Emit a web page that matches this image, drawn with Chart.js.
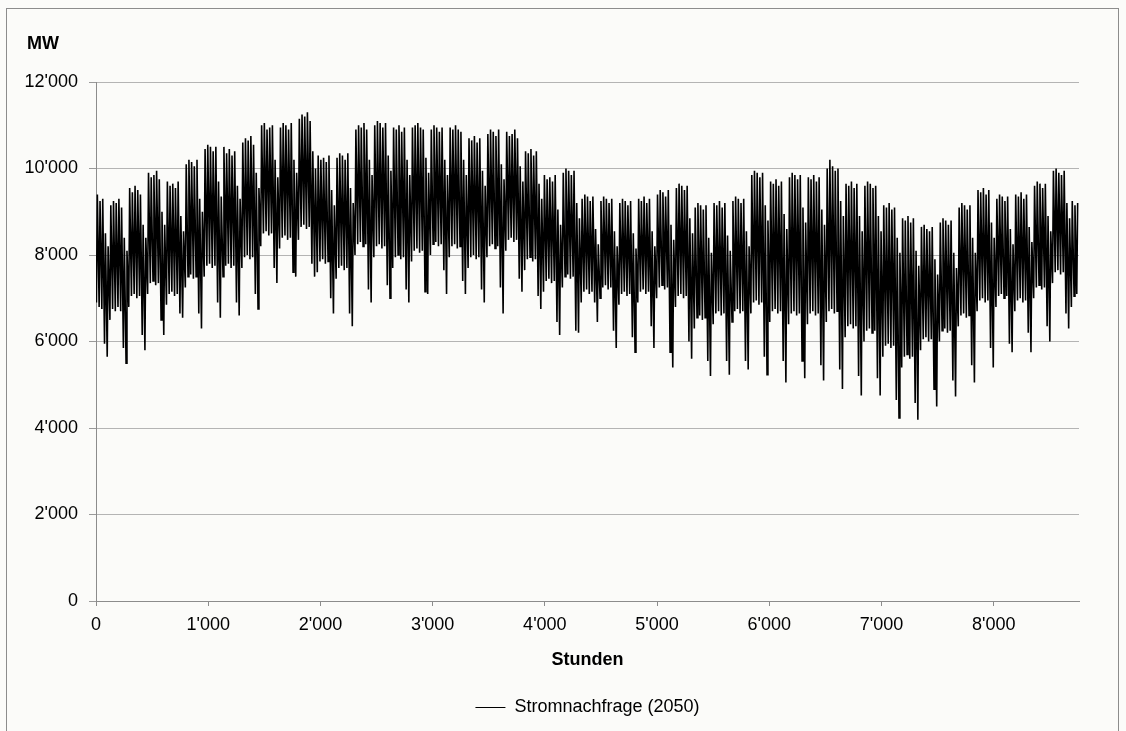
<!DOCTYPE html>
<html>
<head>
<meta charset="utf-8">
<style>
html,body{margin:0;padding:0;background:#fbfbf9;}
canvas{display:block;}
</style>
<script src="https://cdn.jsdelivr.net/npm/chart.js@4.4.0/dist/chart.umd.min.js"></script>
</head>
<body>
<canvas id="c" width="1126" height="731"></canvas>
<script>
// ---- Data ----
const seriesName = 'Stromnachfrage (2050)';
const yUnit = 'MW';
const xTitle = 'Stunden';
const xTicks = [0, 1000, 2000, 3000, 4000, 5000, 6000, 7000, 8000];
const yTicks = [0, 2000, 4000, 6000, 8000, 10000, 12000];
const hoursPerDay = 24;
const troughHour = 4;   // night minimum of each day
const peakHour = 12;    // daytime maximum of each day

// daily maximum demand (MW), day 0 .. 364
const dailyPeakMW = [
 9400,9250,9300, 8500,8200,
 9150,9250,9200,9300,9100, 8400,8100,
 9550,9450,9600,9500,9400, 8700,8400,
 9900,9800,9850,9950,9750, 9000,8700,
 9700,9600,9650,9550,9700, 8900,8550,
 10100,10200,10150,10050,10200, 9300,9000,
 10450,10550,10500,10400,10500, 9700,9350,
 10500,10350,10450,10300,10400, 9600,9300,
 10600,10700,10650,10750,10550, 9900,9550,
 11000,11050,10900,10950,11000, 10200,9800,
 10950,11050,11000,10900,11050, 10200,9900,
 11150,11250,11200,11300,11100, 10400,10000,
 10300,10200,10250,10150,10300, 9500,9150,
 10250,10350,10300,10200,10350, 9550,9200,
 10900,11000,10950,11050,10900, 10200,9850,
 11000,11100,11050,10950,11050, 10300,9950,
 10950,10900,11000,10850,10950, 10200,9850,
 10950,11000,11050,10950,10900, 10250,9900,
 10900,11000,10950,10850,10950, 10200,9850,
 10950,10900,11000,10900,10850, 10200,9850,
 10700,10650,10750,10600,10700, 9950,9600,
 10800,10900,10850,10750,10900, 10100,9750,
 10850,10750,10800,10900,10700, 10050,9700,
 10400,10350,10450,10300,10400, 9650,9300,
 9850,9750,9800,9700,9850, 9050,8700,
 9900,10000,9950,9850,9950, 9200,8850,
 9300,9400,9350,9250,9350, 8600,8250,
 9250,9350,9300,9200,9300, 8550,8200,
 9200,9300,9250,9150,9250, 8500,8150,
 9300,9250,9350,9200,9300, 8550,8200,
 9400,9500,9450,9350,9500, 8700,8350,
 9550,9650,9600,9500,9600, 8850,8500,
 9100,9200,9150,9050,9150, 8400,8050,
 9200,9150,9250,9100,9200, 8450,8100,
 9250,9350,9300,9200,9300, 8550,8200,
 9850,9950,9900,9800,9900, 9150,8800,
 9700,9650,9750,9600,9700, 8950,8600,
 9800,9900,9850,9750,9850, 9100,8750,
 9800,9750,9850,9700,9800, 9050,8700,
 10000,10200,10050,9950,10000, 9250,8900,
 9650,9600,9700,9550,9650, 8900,8550,
 9600,9700,9650,9550,9600, 8900,8550,
 9150,9100,9200,9050,9100, 8400,8050,
 8850,8800,8900,8750,8850, 8100,7750,
 8650,8700,8600,8550,8650, 7900,7550,
 8750,8850,8800,8700,8800, 8050,7700,
 9100,9200,9150,9050,9150, 8400,8050,
 9500,9450,9550,9400,9500, 8750,8400,
 9300,9400,9350,9250,9350, 8600,8250,
 9400,9350,9450,9300,9400, 8650,8300,
 9600,9700,9650,9550,9650, 8900,8550,
 9950,10000,9900,9850,9950, 9200,8850,
 9250,9150,9200
];

// daily night minimum demand (MW), day 0 .. 364
const dailyTroughMW = [
 6900,6800,6750, 5950,5650,
 6500,6750,6700,6800,6700, 5850,5500,
 6800,7050,7100,7000,7050, 6150,5800,
 7100,7350,7400,7300,7350, 6500,6150,
 6850,7100,7150,7050,7100, 6650,6550,
 7250,7500,7550,7450,7500, 6650,6300,
 7500,7750,7800,7700,7750, 6900,6550,
 7500,7750,7800,7700,7750, 6900,6600,
 7700,7950,8000,7900,7950, 7100,6750,
 8200,8500,8550,8450,8500, 7700,7350,
 8150,8400,8450,8350,8400, 7600,7500,
 8350,8650,8700,8600,8650, 7800,7500,
 7600,7850,7900,7800,7850, 7000,6650,
 7450,7700,7750,7650,7700, 6650,6350,
 8000,8250,8300,8200,8250, 7200,6900,
 7950,8200,8250,8150,8200, 7300,7000,
 7700,7950,8000,7900,7950, 7200,6900,
 7850,8100,8150,8050,8100, 7150,7100,
 8000,8250,8300,8200,8250, 7650,7100,
 7950,8200,8250,8150,8200, 7400,7100,
 7700,7950,8000,7900,7950, 7200,6900,
 7950,8200,8250,8150,8200, 7250,6650,
 8100,8350,8400,8300,8350, 7450,7150,
 7650,7900,7950,7850,7900, 7050,6750,
 7150,7400,7450,7350,7400, 6450,6150,
 7250,7500,7550,7450,7500, 6250,6200,
 6900,7150,7200,7100,7150, 6900,6450,
 7000,7250,7300,7200,7250, 6250,5850,
 6850,7100,7150,7050,7100, 6100,5750,
 6900,7150,7200,7100,7150, 6350,5850,
 7000,7250,7300,7200,7250, 5750,5400,
 6800,7050,7100,7000,7050, 6000,5600,
 6300,6550,6600,6500,6550, 5550,5200,
 6400,6650,6700,6600,6650, 5550,5230,
 6450,6700,6750,6650,6700, 5550,5350,
 6650,6900,6950,6850,6900, 5650,5230,
 6450,6700,6750,6650,6700, 5550,5050,
 6400,6650,6700,6600,6650, 5550,5150,
 6400,6650,6700,6600,6650, 5450,5100,
 6450,6700,6750,6650,6700, 5350,4900,
 6100,6350,6400,6300,6350, 5200,4750,
 6000,6250,6300,6200,6250, 5150,4750,
 5650,5900,5950,5850,5900, 4650,4230,
 5400,5650,5700,5600,5650, 4580,4190,
 5800,6050,6100,6000,6050, 4900,4500,
 6000,6250,6300,6200,6250, 5100,4730,
 6350,6600,6650,6550,6600, 5450,5050,
 6700,6950,7000,6900,6950, 5850,5400,
 6800,7050,7100,7000,7050, 5950,5750,
 6700,6950,7000,6900,6950, 6200,5750,
 7000,7250,7300,7200,7250, 6350,6000,
 7350,7600,7650,7550,7600, 6650,6300,
 6800,7050,7100
];

// ---- Build the line data table from the arrays ----
const points = [];
for (let d = 0; d < dailyPeakMW.length; d++) {
  points.push({x: d * hoursPerDay + troughHour, y: dailyTroughMW[d]});
  points.push({x: d * hoursPerDay + peakHour, y: dailyPeakMW[d]});
}

const FONT = "'Liberation Sans', Arial, Helvetica, sans-serif";
const fmt = v => String(Math.round(v)).replace(/\B(?=(\d{3})+(?!\d))/g, "'");

const decor = {
  id: 'decor',
  beforeDraw(chart) {
    const c = chart.ctx;
    c.save();
    c.fillStyle = '#fbfbf9';
    c.fillRect(0, 0, chart.width, chart.height);
    c.strokeStyle = '#8c8c8c';
    c.lineWidth = 1;
    c.strokeRect(6.5, 8.5, 1112, 740);
    c.restore();
  },
  afterDraw(chart) {
    const c = chart.ctx;
    c.save();
    c.font = 'bold 18px ' + FONT;
    c.fillStyle = '#000';
    c.textBaseline = 'middle';
    c.textAlign = 'left';
    c.fillText(yUnit, 27, 44);
    c.restore();
  }
};

new Chart(document.getElementById('c'), {
  type: 'line',
  data: {
    datasets: [{
      label: seriesName,
      data: points,
      borderColor: '#000',
      backgroundColor: '#000',
      borderWidth: 1.6,
      pointRadius: 0,
      tension: 0,
      fill: false
    }]
  },
  options: {
    responsive: false,
    animation: false,
    devicePixelRatio: 1,
    layout: { padding: { top: 82, right: 47, bottom: 4.5, left: 0 } },
    plugins: {
      legend: {
        position: 'bottom',
        fullSize: false,
        labels: {
          font: { family: FONT, size: 18 },
          color: '#000',
          usePointStyle: true,
          pointStyle: 'line',
          pointStyleWidth: 30,
          boxHeight: 18,
          padding: 10,
          generateLabels: chart => [{
            text: seriesName,
            strokeStyle: '#000',
            fillStyle: '#000',
            lineWidth: 1,
            pointStyle: 'line',
            hidden: false,
            datasetIndex: 0
          }]
        }
      },
      tooltip: { enabled: false }
    },
    scales: {
      x: {
        type: 'linear',
        min: 0,
        max: 8760,
        afterBuildTicks: s => { s.ticks = xTicks.map(v => ({ value: v })); },
        afterFit: s => { s.height = 87.5; },
        ticks: {
          font: { family: FONT, size: 18 },
          color: '#000',
          padding: 8,
          maxRotation: 0,
          autoSkip: false,
          callback: v => fmt(v)
        },
        grid: { drawOnChartArea: false, drawTicks: true, tickLength: 5, color: '#8c8c8c' },
        border: { display: true, color: '#8c8c8c', width: 1 },
        title: {
          display: true,
          text: xTitle,
          color: '#000',
          font: { family: FONT, size: 18, weight: 'bold' },
          padding: { top: 0, bottom: 18 }
        }
      },
      y: {
        min: 0,
        max: 12000,
        afterBuildTicks: s => { s.ticks = yTicks.map(v => ({ value: v })); },
        afterFit: s => { s.width = 96; },
        ticks: {
          font: { family: FONT, size: 18 },
          color: '#000',
          padding: 11,
          callback: v => fmt(v)
        },
        grid: { color: '#b4b4b4', tickLength: 7, tickColor: '#9a9a9a' },
        border: { display: true, color: '#8c8c8c', width: 1 }
      }
    }
  },
  plugins: [decor]
});
</script>
</body>
</html>
